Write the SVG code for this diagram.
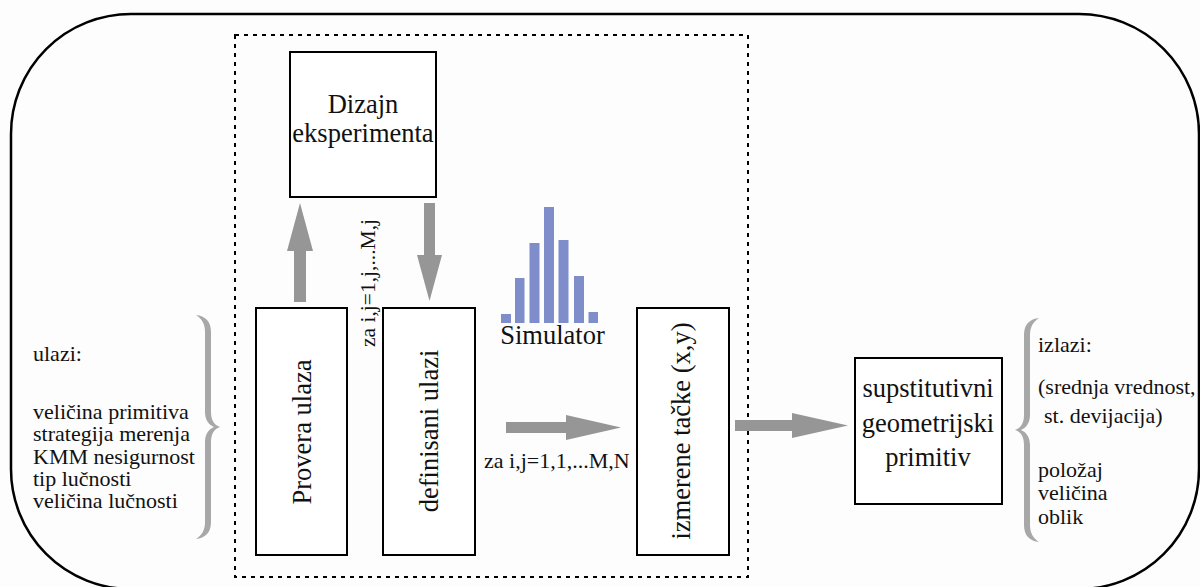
<svg xmlns="http://www.w3.org/2000/svg" width="1200" height="587" viewBox="0 0 1200 587">
  <style>
    .frame { fill: none; stroke: #000; stroke-width: 2.5; }
    .dash { fill: none; stroke: #000; stroke-width: 2; stroke-dasharray: 4 5; }
    .box { fill: #fff; stroke: #000; stroke-width: 2; }
    .arrow { fill: #969696; }
    .brace { fill: #a8a8a8; }
    .bar { fill: #7f8ecb; }
    text { fill: #111; }
    .big { font-size: 26.5px; }
    .mid { font-size: 22px; }
    .small { font-size: 21.5px; }
  </style>
  <defs>
    <!-- closing curly brace, spine at x=208, tip at x=220 -->
    <path id="brace" class="brace" d="M196,315 C205,316 211,321 211,332 L211,412 C211,420 214,425 220,427 C214,429 211,434 211,442 L211,522 C211,533 205,538 196,539 C202,535 205,530 205,522 L205,442 C205,434 209,429 214,427 C209,425 205,420 205,412 L205,332 C205,324 202,319 196,315 Z"/>
  </defs>
  <rect width="1200" height="587" fill="#fdfdfd"/>

  <!-- outer rounded frame -->
  <rect class="frame" x="11" y="14" width="1188" height="575" rx="120" ry="120"/>
  <!-- simulation boundary -->
  <rect class="dash" x="235" y="35" width="513" height="542"/>

  <g font-family="Liberation Serif, DejaVu Serif, Noto Serif, serif">
  <!-- inputs -->
  <g id="inputs">
    <text class="mid" x="33" y="361">ulazi:</text>
    <text class="mid" x="33" y="419">veličina primitiva</text>
    <text class="mid" x="33" y="441">strategija merenja</text>
    <text class="mid" x="33" y="463.5">KMM nesigurnost</text>
    <text class="mid" x="33" y="485.5">tip lučnosti</text>
    <text class="mid" x="33" y="508">veličina lučnosti</text>
    <use href="#brace"/>
  </g>

  <g id="dizajn">
    <rect class="box" x="290" y="52" width="146" height="145"/>
    <text class="big" x="363" y="113" text-anchor="middle">Dizajn</text>
    <text class="big" x="363" y="142" text-anchor="middle">eksperimenta</text>
  </g>

  <g id="provera">
    <rect class="box" x="256" y="308" width="91" height="247"/>
    <text class="big" transform="translate(311,432) rotate(-90)" text-anchor="middle">Provera ulaza</text>
  </g>

  <g id="definisani">
    <rect class="box" x="383" y="308" width="92" height="247"/>
    <text class="big" transform="translate(438,431) rotate(-90)" text-anchor="middle">definisani ulazi</text>
  </g>

  <g id="simulator">
    <rect class="bar" x="501" y="314" width="10" height="9"/>
    <rect class="bar" x="515" y="278" width="9.5" height="45"/>
    <rect class="bar" x="529.5" y="243" width="10" height="80"/>
    <rect class="bar" x="544" y="207" width="10" height="116"/>
    <rect class="bar" x="558.5" y="240" width="10" height="83"/>
    <rect class="bar" x="574" y="276" width="10" height="47"/>
    <rect class="bar" x="588.5" y="312" width="9.5" height="11"/>
    <text class="big" x="552.5" y="344" text-anchor="middle">Simulator</text>
  </g>

  <g id="izmerene">
    <rect class="box" x="637" y="308" width="92" height="247"/>
    <text class="big" transform="translate(690,431) rotate(-90)" text-anchor="middle">izmerene tačke (x,y)</text>
  </g>

  <g id="supstitutivni">
    <rect class="box" x="855" y="358" width="147" height="146"/>
    <text class="big" x="928" y="397" text-anchor="middle">supstitutivni</text>
    <text class="big" x="928" y="432" text-anchor="middle">geometrijski</text>
    <text class="big" x="928" y="466" text-anchor="middle">primitiv</text>
  </g>

  <!-- outputs -->
  <g id="outputs">
    <use href="#brace" transform="translate(1235,3) scale(-1,1)"/>
    <text class="mid" x="1038" y="352">izlazi:</text>
    <text class="mid" x="1038" y="394">(srednja vrednost,</text>
    <text class="mid" x="1044" y="423">st. devijacija)</text>
    <text class="mid" x="1038" y="477">položaj</text>
    <text class="mid" x="1038" y="500">veličina</text>
    <text class="mid" x="1038" y="524">oblik</text>
  </g>

  <!-- connectors -->
  <g id="connectors">
    <polygon class="arrow" points="294,302 294,251 287,251 300,203 313,251 306,251 306,302"/>
    <polygon class="arrow" points="424,203 435,203 435,255 442,255 429.5,301 417,255 424,255"/>
    <polygon class="arrow" points="506,422 566,422 566,415 621,427.5 566,440 566,433 506,433"/>
    <polygon class="arrow" points="735,420 792,420 792,413 848,425.5 792,438 792,431 735,431"/>
    <text class="small" transform="translate(375,283) rotate(-90)" text-anchor="middle">za i,j=1,j,...M,j</text>
    <text class="mid" x="484" y="468">za i,j=1,1,...M,N</text>
  </g>
  </g>
</svg>
